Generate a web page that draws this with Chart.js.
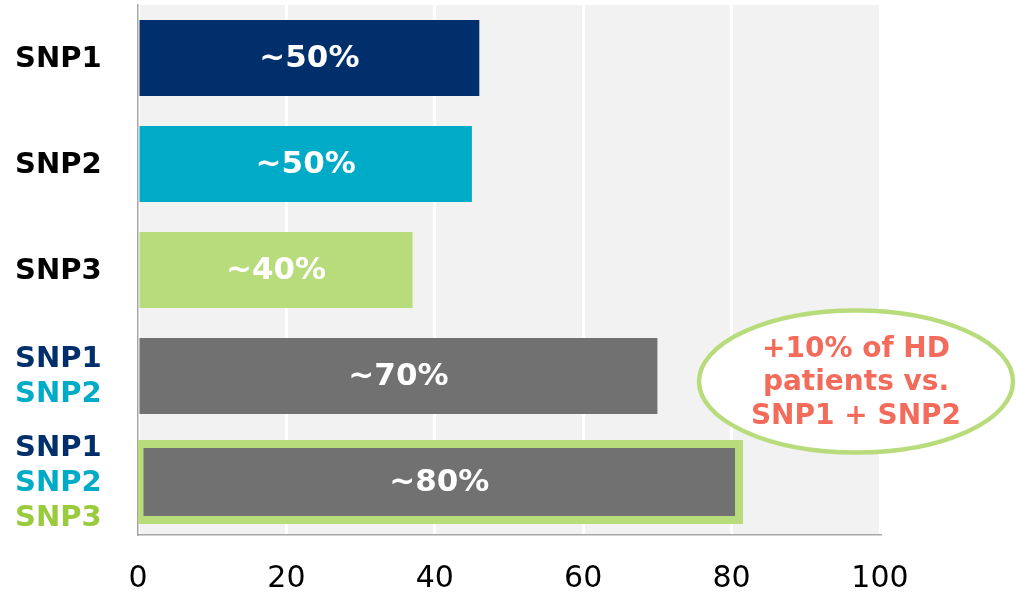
<!DOCTYPE html>
<html>
<head>
<meta charset="utf-8">
<script src="https://cdn.jsdelivr.net/npm/chart.js@4"></script>
<style>
    html, body { margin: 0; padding: 0; background: #ffffff; }
    #wrap { width: 1016px; height: 593px; }
</style>
</head>
<body>
<div id="wrap"><canvas id="snpChart"></canvas></div>
<script>
// Data
const categories = [['SNP1'], ['SNP2'], ['SNP3'], ['SNP1', 'SNP2'], ['SNP1', 'SNP2', 'SNP3']];
const values = [46, 45, 37, 70, 81];
const barLabels = ['~50%', '~50%', '~40%', '~70%', '~80%'];
const xTicks = [0, 20, 40, 60, 80, 100];
const calloutLines = ['+10% of HD', 'patients vs.', 'SNP1 + SNP2'];

// Styles
const barColors = ['#002f6c', '#00abc8', '#b8dc7c', '#717171', '#717171'];
const snpTextColors = { SNP1: '#002f6c', SNP2: '#00abc8', SNP3: '#9acb3c' };
const highlightIndex = 4;
const FONT = '"DejaVu Sans", Verdana, sans-serif';

// Grey plot background
const plotBackground = {
    id: 'plotBackground',
    beforeDraw(chart) {
        const { ctx, chartArea: a } = chart;
        ctx.save();
        ctx.fillStyle = '#f2f2f2';
        ctx.fillRect(a.left, a.top, a.right - a.left, a.bottom - a.top);
        ctx.restore();
    }
};

// White labels centred in each bar
const barText = {
    id: 'barText',
    afterDatasetsDraw(chart) {
        const { ctx } = chart;
        const meta = chart.getDatasetMeta(0);
        ctx.save();
        ctx.fillStyle = '#ffffff';
        ctx.font = 'bold 31px ' + FONT;
        ctx.textAlign = 'center';
        ctx.textBaseline = 'middle';
        meta.data.forEach((bar, i) => {
            const p = bar.getProps(['x', 'y', 'base'], true);
            ctx.fillText(barLabels[i], (p.x + p.base) / 2, p.y + 1);
        });
        ctx.restore();
    }
};

// Multi-line, multi-colour category labels
const categoryText = {
    id: 'categoryText',
    afterDraw(chart) {
        const { ctx } = chart;
        const yScale = chart.scales.y;
        ctx.save();
        ctx.font = 'bold 29px ' + FONT;
        ctx.textAlign = 'left';
        ctx.textBaseline = 'middle';
        categories.forEach((lines, i) => {
            const cy = yScale.getPixelForValue(i);
            lines.forEach((name, j) => {
                ctx.fillStyle = lines.length > 1 ? snpTextColors[name] : '#000000';
                ctx.fillText(name, 15, cy + (j - (lines.length - 1) / 2) * 35 + 1);
            });
        });
        ctx.restore();
    }
};

// Callout ellipse on the right
const callout = {
    id: 'callout',
    afterDraw(chart) {
        const { ctx } = chart;
        const cx = 856, cy = 381.5;
        ctx.save();
        ctx.beginPath();
        ctx.ellipse(cx, cy, 157, 71, 0, 0, Math.PI * 2);
        ctx.fillStyle = '#ffffff';
        ctx.fill();
        ctx.lineWidth = 4.5;
        ctx.strokeStyle = '#b8dc7c';
        ctx.stroke();
        ctx.fillStyle = '#f26b5b';
        ctx.font = 'bold 28px ' + FONT;
        ctx.textAlign = 'center';
        ctx.textBaseline = 'middle';
        calloutLines.forEach((line, j) => {
            ctx.fillText(line, cx, cy - 32 + j * 33.5);
        });
        ctx.restore();
    }
};

document.addEventListener('DOMContentLoaded', function () {
    const ctx = document.getElementById('snpChart').getContext('2d');
    new Chart(ctx, {
        type: 'bar',
        data: {
            labels: categories.map(c => c.join(' ')),
            datasets: [{
                data: values,
                backgroundColor: barColors,
                borderColor: '#b8dc7c',
                borderWidth: c => c.dataIndex === highlightIndex ? 8 : 0,
                inflateAmount: c => c.dataIndex === highlightIndex ? 4 : 0,
                borderSkipped: false,
                categoryPercentage: 1,
                barPercentage: 0.717,
                clip: 0
            }]
        },
        options: {
            indexAxis: 'y',
            responsive: true,
            maintainAspectRatio: false,
            animation: false,
            layout: { padding: { top: 5, right: 136, left: 0, bottom: 0 } },
            plugins: {
                legend: { display: false },
                tooltip: { enabled: false },
                title: { display: false }
            },
            scales: {
                y: {
                    grid: { display: false },
                    border: { color: '#a6a6a6', width: 1.5 },
                    ticks: { display: false },
                    afterFit: s => { s.width = 138; }
                },
                x: {
                    min: 0,
                    max: 100,
                    afterBuildTicks: s => { s.ticks = xTicks.map(v => ({ value: v })); },
                    grid: { color: '#ffffff', lineWidth: 3, drawTicks: false },
                    border: { color: '#a6a6a6', width: 1.5 },
                    ticks: {
                        color: '#000000',
                        font: { family: FONT, size: 30 },
                        padding: 26
                    },
                    afterFit: s => { s.height = 58; }
                }
            }
        },
        plugins: [plotBackground, barText, categoryText, callout]
    });
});
</script>
</body>
</html>
